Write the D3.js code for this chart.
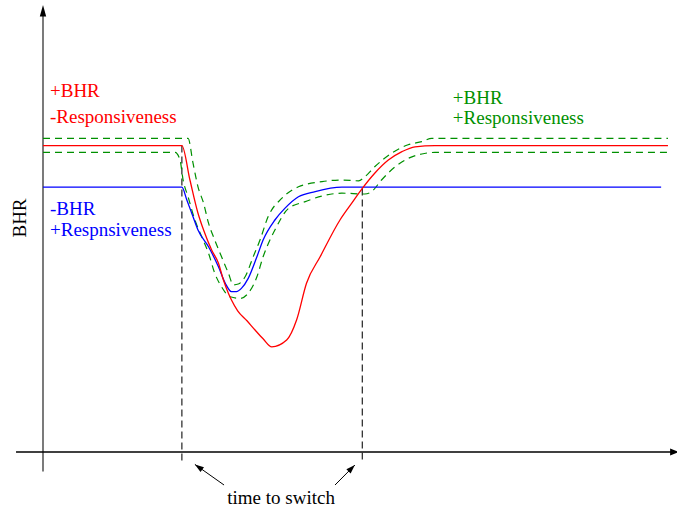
<!DOCTYPE html>
<html>
<head>
<meta charset="utf-8">
<script src="https://cdn.jsdelivr.net/npm/d3@7"></script>
<style>
  html, body { margin: 0; padding: 0; background: #fff; }
  svg { display: block; }
</style>
</head>
<body>
<svg id="chart" width="677" height="509"></svg>
<script>
// ---- data: [time, BHR] in arbitrary units ----
const redSeries = [
  [0, 76.6], [22.4, 76.6], [23.7, 68.0], [25.0, 59.7], [25.9, 55.5], [27.2, 50.5],
  [28.3, 47.2], [29.1, 43.0], [29.9, 39.7], [30.4, 38.0], [31.4, 35.3], [32.9, 32.8],
  [34.2, 30.5], [35.5, 28.3], [36.9, 26.3], [39.3, 28.0], [40.9, 33.0], [42.5, 42.2],
  [44.7, 48.8], [47.9, 58.0], [49.8, 62.2], [51.5, 65.9], [53.5, 69.7], [55.7, 73.0],
  [57.9, 75.1], [60.0, 76.3], [63.2, 76.6], [100.8, 76.6]
];
const blueSeries = [
  [0, 66.2], [22.4, 66.2], [23.2, 63.0], [24.2, 58.8], [25.0, 55.5], [26.7, 51.3],
  [28.3, 46.3], [29.4, 42.2], [30.4, 40.1], [31.2, 40.1], [32.0, 40.9], [33.1, 43.4],
  [34.5, 48.8], [35.5, 53.0], [37.4, 58.0], [39.0, 60.9], [41.2, 63.8], [43.9, 65.1],
  [48.2, 66.2], [99.7, 66.2]
];
const envelopeUpper = [
  [0, 78.4], [23.4, 78.4], [24.2, 72.2], [25.0, 66.3], [25.9, 62.2], [26.7, 57.2],
  [27.7, 53.0], [28.8, 48.8], [29.9, 44.7], [30.7, 41.8], [31.5, 42.0], [32.6, 43.8],
  [33.9, 48.8], [35.0, 53.0], [36.3, 58.8], [38.5, 63.4], [41.2, 66.3], [45.0, 67.6],
  [48.2, 68.0], [50.9, 67.8], [51.9, 68.8], [53.5, 71.3], [56.2, 74.7], [58.9, 76.8],
  [61.1, 77.6], [62.7, 78.4], [100.8, 78.4]
];
const envelopeLower = [
  [0, 74.9], [21.3, 74.9], [22.1, 73.0], [22.6, 68.0], [23.4, 63.8], [24.5, 58.0],
  [25.6, 53.8], [26.7, 49.7], [27.7, 44.7], [28.8, 41.3], [30.2, 38.8], [31.8, 38.4],
  [33.1, 39.7], [34.5, 43.8], [35.5, 48.8], [36.6, 53.0], [37.4, 55.5], [39.6, 60.9],
  [42.3, 62.6], [45.0, 64.0], [48.2, 64.7], [51.9, 64.5], [53.0, 65.1], [54.6, 68.0],
  [56.8, 71.3], [58.9, 73.4], [61.1, 74.5], [63.2, 74.9], [100.8, 74.9]
];
const switchTimes = [22.4, 51.5];
const switchTops = [76.6, 65.9];
const redLabels = ["+BHR", "-Responsiveness"];
const blueLabels = ["-BHR", "+Respnsiveness"];
const greenLabels = ["+BHR", "+Responsiveness"];
const yAxisTitle = "BHR";
const switchLabel = "time to switch";

// ---- drawing ----
const FONT = "'Liberation Serif', serif";
const svg = d3.select("#chart");
const x = d3.scaleLinear().domain([0, 100]).range([43, 663]);
const y = d3.scaleLinear().domain([0, 100]).range([452, 52]);

const RED = "#ff0000", BLUE = "#0000ff", GREEN = "#009000";

const line = d3.line()
  .x(d => x(d[0]))
  .y(d => y(d[1]))
  .curve(d3.curveMonotoneX);

function arrowHead(x1, y1, x2, y2, len, half, color) {
  const dx = x2 - x1, dy = y2 - y1, L = Math.hypot(dx, dy);
  const ux = dx / L, uy = dy / L;
  const bx = x2 - ux * len, by = y2 - uy * len;
  const px = -uy * half, py = ux * half;
  svg.append("path")
    .attr("d", `M${x2},${y2}L${bx + px},${by + py}L${bx - px},${by - py}Z`)
    .attr("fill", color);
}

// axes
svg.append("line")
  .attr("x1", x(0)).attr("x2", x(0))
  .attr("y1", y(-4.9)).attr("y2", y(109))
  .attr("stroke", "#333").attr("stroke-width", 1.3);
arrowHead(x(0), y(-4.9), x(0), y(111.75), 11.5, 3.2, "#000");

svg.append("line")
  .attr("x1", x(-4.35)).attr("x2", x(101.5))
  .attr("y1", y(0)).attr("y2", y(0))
  .attr("stroke", "#000").attr("stroke-width", 1.3);
arrowHead(x(-4.35), y(0), x(102.6), y(0), 9, 3.4, "#000");

// switch-time markers
switchTimes.forEach((t, i) => {
  svg.append("line")
    .attr("x1", x(t)).attr("x2", x(t))
    .attr("y1", y(switchTops[i])).attr("y2", y(-2.6))
    .attr("stroke", "#222").attr("stroke-width", 1.2)
    .attr("stroke-dasharray", "7,4");
});

// envelope (green dashed)
[envelopeUpper, envelopeLower].forEach(s => {
  svg.append("path")
    .attr("d", line(s))
    .attr("fill", "none")
    .attr("stroke", GREEN).attr("stroke-width", 1.2)
    .attr("stroke-dasharray", "7,5");
});

// curves
svg.append("path").attr("d", line(blueSeries))
  .attr("fill", "none").attr("stroke", BLUE).attr("stroke-width", 1.3);
svg.append("path").attr("d", line(redSeries))
  .attr("fill", "none").attr("stroke", RED).attr("stroke-width", 1.3);

// labels
function addText(s, px, py, color) {
  return svg.append("text").attr("x", px).attr("y", py)
    .attr("font-family", FONT).attr("font-size", 19)
    .attr("fill", color).text(s);
}
function labelBlock(lines, t, bs, color) {
  lines.forEach((s, i) => addText(s, x(t), y(bs[i]), color));
}
labelBlock(redLabels, 1.13, [88.8, 82.2], RED);
labelBlock(blueLabels, 1.13, [59.25, 54.1], BLUE);
labelBlock(greenLabels, 66.1, [87.0, 81.9], GREEN);

addText(yAxisTitle, 0, 0, "#000")
  .attr("x", null).attr("y", null)
  .attr("transform", `translate(${x(-2.75)},${y(58.5)}) rotate(-90)`)
  .attr("text-anchor", "middle");

addText(switchLabel, x(38.4), y(-13), "#000")
  .attr("text-anchor", "middle");

// arrows pointing to the switch markers
const arrowPairs = [
  [[29.2, -8.25], [24.5, -3.1]],
  [[47.1, -8.25], [50.3, -3.25]]
];
arrowPairs.forEach(([a, b]) => {
  svg.append("line")
    .attr("x1", x(a[0])).attr("y1", y(a[1]))
    .attr("x2", x(b[0])).attr("y2", y(b[1]))
    .attr("stroke", "#000").attr("stroke-width", 1);
  arrowHead(x(a[0]), y(a[1]), x(b[0]), y(b[1]), 9, 3, "#000");
});
</script>
</body>
</html>
